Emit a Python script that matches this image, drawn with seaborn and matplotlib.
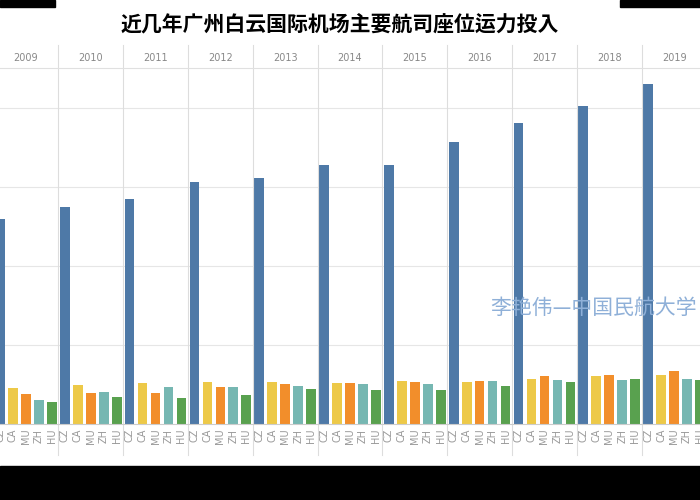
import matplotlib
matplotlib.use("Agg")
import matplotlib.pyplot as plt
import matplotlib.transforms as mtrans
import pandas as pd
import seaborn as sns

plt.rcParams["font.family"] = ["Noto Sans CJK SC", "Noto Sans CJK JP", "DejaVu Sans"]

years = [2009, 2010, 2011, 2012, 2013, 2014, 2015, 2016, 2017, 2018, 2019]
airlines = ["CZ", "CA", "MU", "ZH", "HU"]
# seat capacity, relative units (one gridline = 1)
cz = [2.60, 2.75, 2.85, 3.06, 3.11, 3.28, 3.28, 3.57, 3.81, 4.03, 4.30]
ca = [0.46, 0.49, 0.52, 0.53, 0.53, 0.52, 0.54, 0.53, 0.57, 0.61, 0.62]
mu = [0.38, 0.39, 0.39, 0.47, 0.51, 0.52, 0.53, 0.54, 0.61, 0.62, 0.67]
zh = [0.30, 0.41, 0.47, 0.47, 0.48, 0.51, 0.51, 0.54, 0.56, 0.56, 0.57]
hu = [0.28, 0.34, 0.33, 0.37, 0.44, 0.43, 0.43, 0.48, 0.53, 0.57, 0.56]
colors = ["#4e79a7", "#edc948", "#f28e2b", "#76b7b2", "#59a14f"]

series = {"CZ": cz, "CA": ca, "MU": mu, "ZH": zh, "HU": hu}
rows = []
for p, y in enumerate(years):
    for j, a in enumerate(airlines):
        rows.append({"pos": p * 5 + j, "val": series[a][p], "airline": a, "year": y})
df = pd.DataFrame(rows)

top_px, base_px = 68, 424
fig = plt.figure(figsize=(7, 5), dpi=100)
ax = fig.add_axes([0, (500 - base_px) / 500, 1, (base_px - top_px) / 500])
sns.barplot(data=df, x="pos", y="val", hue="airline", hue_order=airlines,
            palette=colors, native_scale=True, dodge=False, width=0.75,
            saturation=1, legend=False, ax=ax)
ax.set_xlim(4.5 - 42 / 13.6, 4.5 + 658 / 13.6)
ax.set_ylim(0, (base_px - top_px) / 79)
for s in ax.spines.values():
    s.set_visible(False)
ax.set_yticks([1, 2, 3, 4])
ax.set_yticklabels([])
ax.tick_params(length=0)
ax.grid(axis="y", color="#e6e6e6", lw=0.8)
ax.set_axisbelow(True)
ax.set_xlabel("")
ax.set_ylabel("")
ax.set_xticks(df["pos"])
ax.set_xticklabels(df["airline"], rotation=90, color="#999999", fontsize=7,
                   fontfamily="DejaVu Sans")

h = base_px - top_px
tr = mtrans.blended_transform_factory(ax.transData, ax.transAxes)
for p in range(len(years) + 1):
    ax.plot([p * 5 - 0.5] * 2, [-31 / h, 1 + 23 / h], transform=tr, color="#dddddd",
            lw=0.8, clip_on=False)
for p, y in enumerate(years):
    ax.text(p * 5 + 2, 1 + 10 / h, str(y), transform=tr, ha="center", va="center",
            fontsize=7, color="#888888", fontfamily="DejaVu Sans")
ax.plot([0, 1], [1.0, 1.0], transform=ax.transAxes, color="#e0e0e0", lw=0.8,
        clip_on=False)
ax.plot([0, 1], [0, 0], transform=ax.transAxes, color="#cccccc", lw=0.8, clip_on=False)

fig.text(0.485, 0.95, "近几年广州白云国际机场主要航司座位运力投入", ha="center",
         va="center", fontsize=15, fontweight="bold")
fig.text(0.70, 0.384, "李艳伟—中国民航大学", fontsize=15, color="#8fb0d8",
         va="center")

# black frame bars seen on the screenshot
fig.patches.append(plt.Rectangle((0, 0), 1, 34 / 500, transform=fig.transFigure,
                                 color="black", zorder=10))
fig.patches.append(plt.Rectangle((0, 493 / 500), 55 / 700, 7 / 500,
                                 transform=fig.transFigure, color="black", zorder=10))
fig.patches.append(plt.Rectangle((620 / 700, 493 / 500), 80 / 700, 7 / 500,
                                 transform=fig.transFigure, color="black", zorder=10))

fig.savefig("out.png", dpi=100)
